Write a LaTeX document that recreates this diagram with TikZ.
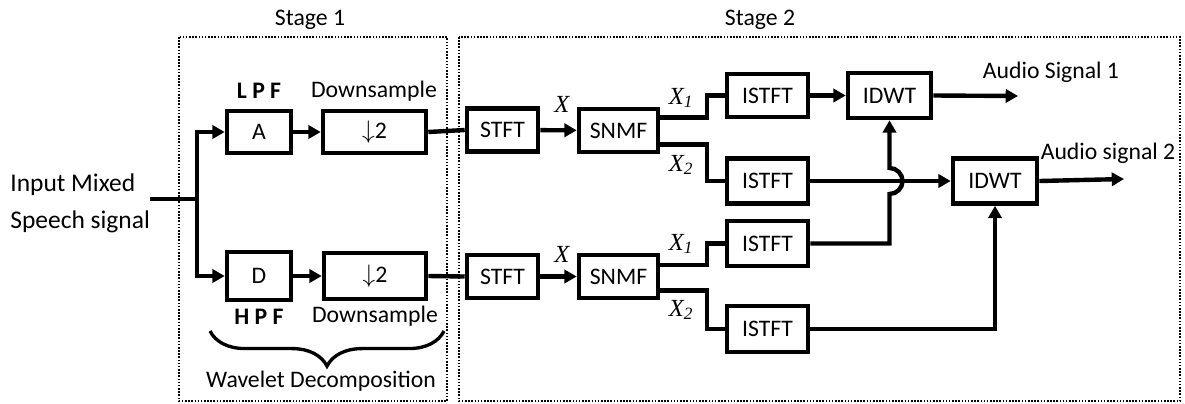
\documentclass[tikz,border=0pt]{standalone}
\usepackage{fontspec}
\setmainfont{Carlito}
\newfontfamily\tnr{Liberation Serif}
\usetikzlibrary{arrows.meta,decorations.pathreplacing}

\begin{document}
\begin{tikzpicture}[x=0.02cm,y=-0.02cm,
  block/.style={draw,rectangle,line width=2.6pt,inner sep=0pt,minimum height=0.86cm,font=\fontsize{13.5}{15}\selectfont},
  conn/.style={line width=2.5pt},
  arr/.style={line width=2.5pt,-{Triangle[length=7pt,width=7.5pt]}},
  lbl/.style={font=\fontsize{13.5}{15}\selectfont,inner sep=0pt},
  var/.style={font=\tnr\itshape\fontsize{14}{16}\selectfont,inner sep=0pt},
  stage/.style={line width=1pt,dash pattern=on 0.9pt off 0.9pt}]

    \useasboundingbox (0,0) rectangle (1185,403);

    % stage frames
    \draw[stage] (179,37) rectangle (447,401);
    \draw[stage] (459,37) rectangle (1180,401);
    \node[lbl] (st1) at (310,20) {Stage 1};
    \node[lbl] (st2) at (760,20) {Stage 2};

    % input
    \node[lbl,align=left,anchor=west,font=\fontsize{14.5}{21}\selectfont] (inp) at (10,203) {Input Mixed\\Speech signal};
    \coordinate (j) at (197,199);

    % wavelet decomposition
    \node[block,minimum width=1.28cm,minimum height=0.84cm] (A) at (259,132) {A};
    \node[block,minimum width=2.06cm,minimum height=0.84cm] (ds1) at (374.5,132) {$\downarrow$2};
    \node[block,minimum width=1.28cm,minimum height=0.96cm] (D) at (259,276) {D};
    \node[block,minimum width=2.04cm,minimum height=0.92cm] (ds2) at (375,276) {$\downarrow$2};
    \node[lbl] (lpf) at (259,91) {\textbf{L P F}};
    \node[lbl] (dsl1) at (374,91) {Downsample};
    \node[lbl] (hpf) at (259,317) {\textbf{H P F}};
    \node[lbl] (dsl2) at (375,316) {Downsample};
    \node[lbl] (wd) at (321,381) {Wavelet Decomposition};
    \draw[line width=1.9pt,decorate,decoration={brace,mirror,amplitude=20pt}] (210,331) -- (444,331);

    % stage 2, upper branch
    \node[block,minimum width=1.42cm] (stft1) at (502.5,130) {STFT};
    \node[block,minimum width=1.58cm] (snmf1) at (618.5,130.5) {SNMF};
    \node[block,minimum width=1.62cm] (istft1) at (767.5,95.5) {ISTFT};
    \node[block,minimum width=1.62cm,minimum height=0.9cm] (istft2) at (767.5,181) {ISTFT};
    \node[block,minimum width=1.66cm,minimum height=0.9cm] (idwt1) at (889.5,95.5) {IDWT};

    % stage 2, lower branch
    \node[block,minimum width=1.42cm] (stft2) at (502.5,276.5) {STFT};
    \node[block,minimum width=1.58cm] (snmf2) at (618.5,276.5) {SNMF};
    \node[block,minimum width=1.62cm,minimum height=0.9cm] (istft3) at (767.5,243.5) {ISTFT};
    \node[block,minimum width=1.62cm,minimum height=0.92cm] (istft4) at (767.5,329) {ISTFT};
    \node[block,minimum width=1.68cm,minimum height=0.9cm] (idwt2) at (995,181) {IDWT};

    % outputs
    \coordinate (out1) at (1018,96);
    \coordinate (out2) at (1124,179);
    \node[lbl] (a1) at (1051,72) {Audio Signal 1};
    \node[lbl] (a2) at (1108,153) {Audio signal 2};

    % variable labels
    \node[var] (x1) at (562,104) {X};
    \node[var] (x2) at (562,254) {X};
    \node[var] (x11) at (681,98) {X\textsubscript{1}};
    \node[var] (x12) at (681,165) {X\textsubscript{2}};
    \node[var] (x21) at (681,244) {X\textsubscript{1}};
    \node[var] (x22) at (681,310) {X\textsubscript{2}};

    \draw[conn] (inp.east |- j) -- (j);
    \draw[arr] (j) |- (A.west);
    \draw[arr] (j) |- (D.west);
    \draw[arr] (A) -- (ds1);
    \draw[arr] (D) -- (ds2);
    \draw[conn] (ds1.east) -- (stft1.west);
    \draw[conn] (ds2.east) -- (stft2.west);

    \draw[arr] (stft1) -- (snmf1);
    \draw[arr] (stft2) -- (snmf2);
    \draw[conn] ([yshift=7.5pt]snmf1.east) -- ++(47,0) |- (istft1.west);
    \draw[conn] ([yshift=-8pt]snmf1.east) -- ++(47,0) |- (istft2.west);
    \draw[conn] ([yshift=6.5pt]snmf2.east) -- ++(47,0) |- (istft3.west);
    \draw[conn] ([yshift=-8pt]snmf2.east) -- ++(47,0) |- (istft4.west);

    \draw[arr] (istft1) -- (idwt1);
    \draw[arr] (istft2) -- (idwt2);
    \coordinate (cross) at (idwt1.south |- istft2.east);
    \draw[arr] (istft3.east) -| ([yshift=-7.4pt]cross) arc[start angle=-90,end angle=90,radius=7.4pt] -- (idwt1.south);
    \draw[arr] (istft4.east) -| (idwt2.south);
    \draw[arr] (idwt1.east) -- (out1);
    \draw[arr] (idwt2.east) -- (out2);

\end{tikzpicture}
\end{document}
